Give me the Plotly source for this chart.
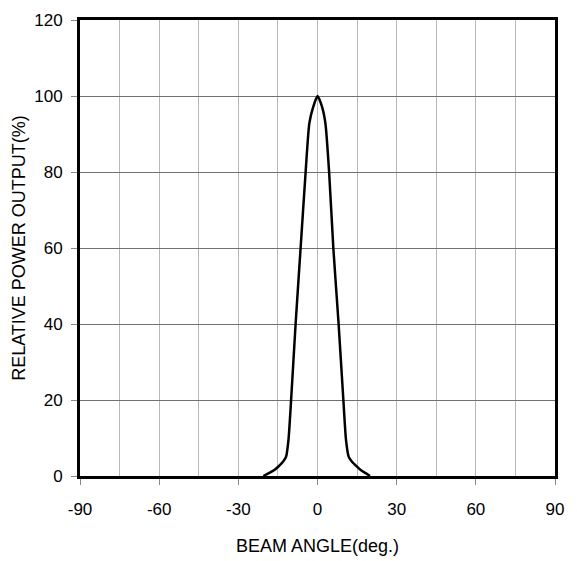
import plotly.graph_objects as go

# Beam angle (deg) and relative power output (%)
angle = [-20.5, -18.6, -16.5, -14.8, -13.0, -11.9, -11.0, -10.0, -8.3, -6.4, -4.5,
         -3.1, -1.6, 0.0, 1.7, 3.0, 4.4, 6.0, 8.0, 9.8, 10.8, 11.8, 13.0, 14.9,
         16.5, 18.4, 19.9]
power = [0.0, 0.7, 1.5, 2.5, 3.8, 5.1, 9.5, 20, 40, 60, 80,
         92.8, 97.2, 100, 97.2, 92.8, 80, 60, 40, 20, 9.5, 5.1, 3.8, 2.5,
         1.5, 0.7, 0.0]

x_ticks = [-90, -60, -30, 0, 30, 60, 90]
y_ticks = [0, 20, 40, 60, 80, 100, 120]

fig = go.Figure()
fig.add_trace(go.Scatter(
    x=angle, y=power, mode="lines",
    line=dict(color="black", width=2.5, shape="spline", smoothing=0.6),
    showlegend=False, hoverinfo="skip",
))

font = "Liberation Sans, Arial, sans-serif"
fig.update_layout(
    width=569, height=553,
    margin=dict(l=72, r=22, t=12, b=85, autoexpand=False),
    paper_bgcolor="white", plot_bgcolor="white",
    font=dict(family=font, color="black"),
    xaxis=dict(
        range=[-90, 90], tickvals=x_ticks, ticktext=[str(v) for v in x_ticks],
        showgrid=True, gridcolor="#b8b8b8", gridwidth=1,
        minor=dict(dtick=15, tick0=-90, showgrid=True, gridcolor="#b8b8b8", gridwidth=1),
        showline=True, linecolor="black", linewidth=3, mirror=True,
        ticks="outside", ticklen=6, tickcolor="#888888", tickwidth=1,
        tickfont=dict(size=17, family=font), zeroline=False, automargin=False,
        ticklabelstandoff=10,
        title=dict(text="BEAM ANGLE(deg.)", font=dict(size=18, family=font), standoff=21),
    ),
    yaxis=dict(
        range=[0, 120], tickvals=y_ticks, ticktext=[str(v) for v in y_ticks],
        showgrid=True, gridcolor="#707070", gridwidth=1,
        showline=True, linecolor="black", linewidth=3, mirror=True,
        ticks="outside", ticklen=6, tickcolor="#888888", tickwidth=1,
        tickfont=dict(size=17, family=font), zeroline=False, automargin=False,
        ticklabelstandoff=5,
        title=dict(text="RELATIVE POWER OUTPUT(%)", font=dict(size=18, family=font), standoff=4),
    ),
)

fig.write_html("out.html")
